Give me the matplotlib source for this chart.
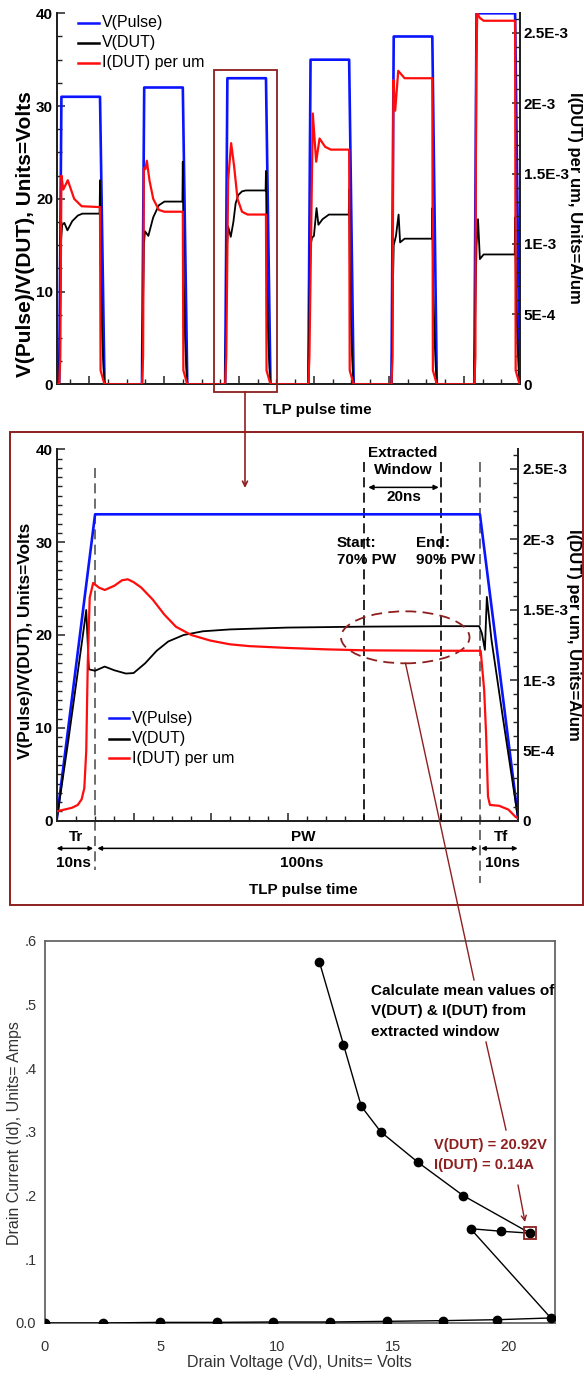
import matplotlib
matplotlib.use("Agg")
import matplotlib.pyplot as plt
from matplotlib.lines import Line2D
from matplotlib.patches import Rectangle, Ellipse, FancyArrowPatch
from matplotlib.ticker import MultipleLocator, FixedLocator

plt.rcParams['font.family'] = ['Liberation Sans', 'DejaVu Sans']

# ---------------- DATA ----------------
# Top panel: six TLP pulses (time in ns, relative to each pulse start)
pulse_starts = [-80, 141, 363, 585, 807, 1028]
pulse_amplitudes = [31, 32, 33, 35, 37.5, 40]
blue_rel_t = [0, 6, 109, 121]

vdut_rel_t = [
    [0, 3, 5, 8, 14, 22, 35, 50, 62, 108, 109, 110, 111.5, 115, 118, 121],
    [0, 3, 5, 8, 17, 30, 45, 60, 108, 109, 110, 111.5, 115, 118, 121],
    [0, 3, 5, 8, 15, 22, 28, 35, 45, 55, 108, 109, 110, 111.5, 115, 118, 121],
    [0, 3, 6, 10, 15, 22, 27, 38, 55, 108, 109, 110, 111.5, 115, 118, 121],
    [0, 3, 6, 12, 19, 23, 35, 108, 109, 110, 111.5, 115, 118, 121],
    [0, 3, 6, 10, 15, 25, 108, 109, 110, 111.5, 115, 118, 121],
]
vdut_vals = [
    [0, 9, 15.5, 17.2, 17.4, 16.6, 17.6, 18.2, 18.4, 18.4, 22, 18, 11, 5, 2, 0],
    [0, 9, 15, 16.5, 16.0, 18, 19.3, 19.7, 19.7, 24, 19, 11, 5, 2, 0],
    [0, 9, 15, 17, 15.9, 17.5, 19.5, 20.4, 20.8, 20.9, 20.9, 23, 19, 11, 5, 2, 0],
    [0, 9, 15, 15.8, 16, 19, 17.2, 17.8, 18.3, 18.3, 21, 17, 11, 5, 2, 0],
    [0, 9, 15, 16, 18.3, 15.3, 15.7, 15.7, 19, 16, 10, 5, 2, 0],
    [0, 9, 15, 17.8, 13.5, 14.0, 14.0, 18, 15, 10, 5, 2, 0],
]
# I(DUT) per um, in units of 1E-3 A/um
idut_rel_t = [
    [0, 1, 3, 6, 11, 17, 23, 40, 60, 109, 110.5, 114, 121],
    [0, 1, 3, 5, 9, 13, 20, 30, 45, 60, 109, 110.5, 114, 121],
    [0, 1, 3, 8, 16, 24, 33, 45, 60, 109, 110.5, 114, 121],
    [0, 1, 3, 12, 21, 30, 45, 60, 109, 110.5, 114, 121],
    [0, 1, 3, 5, 10, 18, 35, 109, 110.5, 114, 121],
    [0, 1, 3, 5, 8, 15, 25, 109, 110.5, 114, 121],
]
idut_vals = [
    [0, 0.066, 0.198, 1.485, 1.386, 1.419, 1.452, 1.32, 1.267, 1.261, 0.099, 0.066, 0],
    [0, 0.066, 0.198, 1.538, 1.531, 1.591, 1.452, 1.32, 1.241, 1.228, 1.228, 0.099, 0.066, 0],
    [0, 0.066, 0.198, 1.452, 1.716, 1.551, 1.32, 1.228, 1.208, 1.208, 0.099, 0.066, 0],
    [0, 0.066, 0.198, 1.927, 1.584, 1.749, 1.69, 1.67, 1.67, 0.099, 0.066, 0],
    [0, 0.066, 0.198, 2.165, 1.947, 2.231, 2.178, 2.178, 0.099, 0.066, 0],
    [0, 0.066, 0.198, 2.244, 2.64, 2.607, 2.587, 2.587, 0.099, 0.066, 0],
]

# Middle panel: zoom on the 33 V pulse (ns)
mid_blue_t = [0, 10, 110, 120]
mid_blue_v = [0, 33, 33, 0]
mid_vdut_t = [0, 3, 5, 7, 7.7, 8.4, 10, 12.5, 15, 18, 20, 23, 26, 29, 33, 38, 45,
              60, 80, 100, 109.8, 110.5, 111.3, 111.8, 113, 116, 118, 120]
mid_vdut_v = [0, 8.5, 14.5, 20.5, 22.7, 16.3, 16.15, 16.6, 16.2, 15.85, 15.9, 16.95,
              18.3, 19.3, 20.0, 20.4, 20.6, 20.8, 20.9, 20.95, 20.95, 20.2, 18.4,
              24.1, 19.5, 11, 5.5, 0]
mid_idut_t = [0, 2, 4, 5.5, 6.5, 7.2, 7.7, 8.1, 8.6, 9.5, 11, 12.5, 15, 17, 18.5, 20,
              22, 25, 28, 31, 35, 40, 45, 50, 60, 70, 80, 100, 110.2, 111.1, 111.6,
              112.1, 112.6, 115, 117.4, 119.3, 120]
mid_idut = [0.066, 0.079, 0.092, 0.112, 0.152, 0.231, 0.495, 1.122, 1.584, 1.690,
            1.657, 1.640, 1.670, 1.709, 1.716, 1.696, 1.657, 1.571, 1.465, 1.379,
            1.320, 1.280, 1.254, 1.241, 1.228, 1.218, 1.211, 1.208, 1.208, 0.931,
            0.620, 0.172, 0.112, 0.106, 0.079, 0.026, 0.017]

# Bottom panel: TLP I-V curve
drain_v = [0, 2.5, 4.95, 7.42, 9.85, 12.3, 14.75, 17.16, 19.52, 21.82,
           18.36, 19.68, 20.92, 18.04, 16.10, 14.49, 13.65, 12.88, 11.84]
drain_i = [0, 0, 0.001, 0.001, 0.0016, 0.0016, 0.0026, 0.0037, 0.0052, 0.0079,
           0.148, 0.144, 0.141, 0.200, 0.252, 0.300, 0.340, 0.437, 0.567]
mean_v, mean_i = 20.92, 0.141

left_ticks = [0, 10, 20, 30, 40]
right_ticks = [0, 5e-4, 1e-3, 1.5e-3, 2e-3, 2.5e-3]
right_labels = ['0', '5E-4', '1E-3', '1.5E-3', '2E-3', '2.5E-3']
iv_yticks = [0, .1, .2, .3, .4, .5, .6]
iv_ylabels = ['0.0', '.1', '.2', '.3', '.4', '.5', '.6']
iv_xticks = [0, 5, 10, 15, 20]

# ---------------- STYLE ----------------
W, H = 584, 1376
DARKRED = '#8e1f1f'
BLUE = '#0a14ff'
RED = '#ff0d0d'
fig = plt.figure(figsize=(W / 100, H / 100), dpi=100)


def rect(x0, y0, x1, y1):
    return [x0 / W, 1 - y1 / H, (x1 - x0) / W, (y1 - y0) / H]


def fx(x):
    return x / W


def fy(y):
    return 1 - y / H


def ftext(x, y, s, **kw):
    kw.setdefault('ha', 'center')
    kw.setdefault('va', 'center')
    fig.text(fx(x), fy(y), s, **kw)


def fline(xs, ys, **kw):
    fig.add_artist(Line2D([fx(v) for v in xs], [fy(v) for v in ys],
                          transform=fig.transFigure, **kw))


def farrow(p0, p1, style='->', **kw):
    fig.add_artist(FancyArrowPatch((fx(p0[0]), fy(p0[1])), (fx(p1[0]), fy(p1[1])),
                                   transform=fig.transFigure, arrowstyle=style,
                                   shrinkA=0, shrinkB=0, **kw))


def style_pulse_axes(ax, axr, xmaj, xmin_, ymin_):
    for a in (ax, axr):
        a.spines['top'].set_visible(False)
        for s in ('left', 'right', 'bottom'):
            a.spines[s].set_linewidth(1.4)
            a.spines[s].set_color('#222222')
    ax.set_ylim(0, 40)
    axr.set_ylim(0, 2.64e-3)
    ax.yaxis.set_major_locator(FixedLocator(left_ticks))
    ax.yaxis.set_minor_locator(MultipleLocator(ymin_))
    ax.xaxis.set_major_locator(MultipleLocator(xmaj))
    ax.xaxis.set_minor_locator(MultipleLocator(xmin_))
    ax.tick_params(axis='x', which='major', labelbottom=False)
    axr.yaxis.set_major_locator(FixedLocator(right_ticks))
    axr.set_yticklabels(right_labels)
    axr.yaxis.set_minor_locator(MultipleLocator(1e-4))
    for a in (ax, axr):
        a.tick_params(which='major', direction='in', length=6, width=1.1, color='#222222',
                      labelsize=11, pad=3)
        a.tick_params(which='minor', direction='in', length=3.5, width=1.0, color='#222222')
    for lab in ax.get_yticklabels() + axr.get_yticklabels():
        lab.set_fontweight('bold')


def legend(x0, x1, xt, ys):
    labels = ['V(Pulse)', 'V(DUT)', 'I(DUT) per um']
    cols = [BLUE, 'black', RED]
    for y, lab, c in zip(ys, labels, cols):
        fline([x0, x1], [y, y], color=c, lw=1.8)
        ftext(xt, y, lab, ha='left', fontsize=11.5)


# ---------------- TOP PANEL ----------------
ax1 = fig.add_axes(rect(57.3, 13.3, 519.6, 384.3))
ax1r = ax1.twinx()
XMIN, XMAX = -85, 1149
ax1.set_xlim(XMIN, XMAX)

bt, bv, kt, kv, rt, rv = [XMIN], [0], [XMIN], [0], [XMIN], [0]
for s, amp, vt, vv, it, iv in zip(pulse_starts, pulse_amplitudes, vdut_rel_t, vdut_vals,
                                  idut_rel_t, idut_vals):
    bt += [s + t for t in blue_rel_t]
    bv += [0, amp, amp, 0]
    kt += [s + t for t in vt]
    kv += vv
    rt += [s + t for t in it]
    rv += iv
bt.append(XMAX); bv.append(0)
kt.append(XMAX); kv.append(0)
rt.append(XMAX); rv.append(0)
ax1.plot(bt, bv, color=BLUE, lw=1.9, zorder=3)
ax1.plot(kt, kv, color='black', lw=1.3, zorder=4)
ax1r.plot(rt, [v * 1e-3 for v in rv], color=RED, lw=1.6, zorder=5)
style_pulse_axes(ax1, ax1r, 200, 50, 2.5)

legend(78, 99, 102, [23, 43, 63])
ftext(26, 234, 'V(Pulse)/V(DUT), Units=Volts', rotation=90, fontsize=15, fontweight='bold')
ftext(574.5, 198, 'I(DUT) per um, Units=A/um', rotation=270, fontsize=12, fontweight='bold')
ftext(317, 410, 'TLP pulse time', fontsize=11, fontweight='bold')

# highlight box + arrow to middle panel
fig.add_artist(Rectangle((fx(214.3), fy(391.7)), (276.7 - 214.3) / W, (391.7 - 70) / H,
                         transform=fig.transFigure, fill=False, ec=DARKRED, lw=1.3))
farrow((245, 391.7), (245, 488), style='->', color=DARKRED, lw=1.2, mutation_scale=9)

# ---------------- MIDDLE PANEL ----------------
fig.add_artist(Rectangle((fx(10.4), fy(905)), (583 - 10.4) / W, (905 - 431.7) / H,
                         transform=fig.transFigure, fill=False, ec=DARKRED, lw=1.4))
ax2 = fig.add_axes(rect(56.6, 449.3, 518.4, 820.7))
ax2r = ax2.twinx()
ax2.set_xlim(0, 120)
ax2.plot(mid_blue_t, mid_blue_v, color=BLUE, lw=1.9, zorder=3)
ax2.plot(mid_vdut_t, mid_vdut_v, color='black', lw=1.3, zorder=4)
ax2r.plot(mid_idut_t, [v * 1e-3 for v in mid_idut], color=RED, lw=1.6, zorder=5)
style_pulse_axes(ax2, ax2r, 20, 5, 1)

# dashed markers
for t, y0, y1, c in [(10, 38.0, -5.3, '#555555'), (110, 38.65, -6.7, '#555555'),
                     (80, 38.65, 0, 'black'), (100, 38.65, 0, 'black')]:
    ax2.plot([t, t], [y0, y1], color=c, lw=1.2, dashes=(6, 3.2), clip_on=False, zorder=2)

ax2.add_patch(Ellipse((90.6, 19.75), 33.4, 5.6, fill=False, ec=DARKRED, lw=1.3,
                      ls=(0, (6, 3.5)), zorder=6))

legend(109, 128.5, 132, [718, 739, 758])
ftext(26, 641, 'V(Pulse)/V(DUT), Units=Volts', rotation=90, fontsize=12.4, fontweight='bold')
ftext(574, 635, 'I(DUT) per um, Units=A/um', rotation=270, fontsize=12, fontweight='bold')

B = dict(fontsize=11, fontweight='bold')
ftext(403, 453, 'Extracted', **B)
ftext(403, 470, 'Window', **B)
ax2.annotate('', xy=(81, 35.9), xytext=(99.3, 35.9),
             arrowprops=dict(arrowstyle='<|-|>', color='black', lw=1.1, mutation_scale=7,
                             shrinkA=0, shrinkB=0), annotation_clip=False)
ftext(404, 497, '20ns', **B)
ftext(337, 543, 'Start:', ha='left', **B)
ftext(337, 560, '70% PW', ha='left', **B)
ftext(416, 543, 'End:', ha='left', **B)
ftext(416, 560, '90% PW', ha='left', **B)

for a, b in [(0, 9.5), (10.6, 109.4), (110.3, 119.8)]:
    ax2.annotate('', xy=(a, -2.98), xytext=(b, -2.98),
                 arrowprops=dict(arrowstyle='<|-|>', color='black', lw=1.1,
                                 mutation_scale=6, shrinkA=0, shrinkB=0),
                 annotation_clip=False)
ftext(76.4, 837, 'Tr', **B)
ftext(303, 837, 'PW', **B)
ftext(501, 837, 'Tf', **B)
ftext(73, 863, '10ns', **B)
ftext(302, 863, '100ns', **B)
ftext(502, 863, '10ns', **B)
ftext(303, 890, 'TLP pulse time', **B)

# ---------------- BOTTOM PANEL ----------------
ax3 = fig.add_axes(rect(44.7, 940.7, 555, 1323))
ax3.plot(drain_v, drain_i, color='black', lw=1.0, marker='o', ms=6, mfc='black',
         mec='black', zorder=3)
ax3.plot([mean_v], [mean_i], marker='s', ms=8, mfc='none', mec=DARKRED, mew=1.3,
         zorder=4, ls='none')
ax3.set_xlim(0, 22)
ax3.set_ylim(0, 0.6)
ax3.set_yticks(iv_yticks)
ax3.set_yticklabels(iv_ylabels)
ax3.set_xticks(iv_xticks)
ax3.tick_params(length=0, labelsize=10.5, labelcolor='#333333', pad=6)
ax3.tick_params(axis='x', pad=12)
for s in ax3.spines.values():
    s.set_color('#666666')
    s.set_linewidth(1.3)
ax3.set_xlabel('Drain Voltage (Vd), Units= Volts', fontsize=11.5, color='#333333', labelpad=1)
ftext(15, 1133, 'Drain Current (Id), Units= Amps', rotation=90, fontsize=11.5, color='#333333')

ftext(370.6, 991, 'Calculate mean values of', ha='left', fontsize=11, fontweight='bold')
ftext(370.6, 1011.5, 'V(DUT) & I(DUT) from', ha='left', fontsize=11, fontweight='bold')
ftext(370.6, 1032, 'extracted window', ha='left', fontsize=11, fontweight='bold')
ftext(434, 1145, 'V(DUT) = 20.92V', ha='left', fontsize=10.5, fontweight='bold', color=DARKRED)
ftext(434, 1165, 'I(DUT) = 0.14A', ha='left', fontsize=10.5, fontweight='bold', color=DARKRED)

# connector from ellipse to text to point
fline([405.5, 474], [663.3, 980], color=DARKRED, lw=1.0, zorder=10)
fline([486, 506], [1042, 1130], color=DARKRED, lw=1.0, zorder=10)
farrow((518, 1185), (525, 1222), style='->', color=DARKRED, lw=1.0, mutation_scale=9)

fig.savefig('out.png', dpi=100)
